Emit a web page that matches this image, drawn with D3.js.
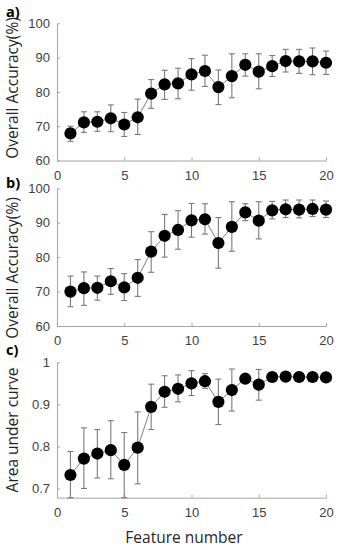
<!DOCTYPE html>
<html>
  <head>
    <title>Feature number vs accuracy</title>
    <style>
body {
  margin: 0px;
  overflow: hidden;
  background: white;
}
.tick text {
  font-family: 'Liberation Sans', Arial, sans-serif;
  font-size: 13px;
  fill: #404040;
}
.domain {
  stroke: #a6a6a6;
}
.tick line {
  stroke: #a6a6a6;
}
.axis-label {
  font-family: 'Open Sans', sans-serif;
  font-size: 15.5px;
  fill: #262626;
}
.panel-label {
  font-family: 'Open Sans', sans-serif;
  font-weight: bold;
  font-size: 14.5px;
  fill: #000;
}
    </style>
    <script src="https://cdn.jsdelivr.net/npm/d3@7"></script>
  </head>
  <body>
    <svg width="339" height="550"></svg>
    <script>

// feature counts on the x axis
const features = [1, 2, 3, 4, 5, 6, 7, 8, 9, 10, 11, 12, 13, 14, 15, 16, 17, 18, 19, 20];
const xTicks = [0, 5, 10, 15, 20];

// a) overall accuracy (%)
const accA   = [67.9, 71.1, 71.3, 72.3, 70.5, 72.6, 79.5, 82.2, 82.5, 85.1, 86.1, 81.4, 84.6, 87.9, 85.9, 87.5, 89.0, 88.9, 88.9, 88.5];
const accALo = [65.6, 68.2, 68.5, 68.4, 67.0, 67.6, 75.2, 77.8, 78.0, 80.5, 81.6, 76.3, 78.3, 84.6, 80.9, 84.5, 85.8, 85.4, 85.0, 85.1];
const accAHi = [70.0, 74.2, 74.2, 76.2, 74.0, 77.9, 83.6, 86.3, 86.9, 89.7, 90.7, 86.4, 91.1, 91.1, 91.1, 90.6, 92.4, 92.4, 92.8, 91.9];

// b) overall accuracy (%)
const accB   = [70.0, 71.0, 71.1, 73.0, 71.2, 74.0, 81.6, 86.2, 87.9, 90.7, 91.0, 84.1, 88.8, 93.0, 90.6, 93.6, 93.9, 93.8, 94.0, 93.8];
const accBLo = [65.6, 66.0, 67.5, 69.2, 67.4, 68.6, 75.6, 80.0, 82.3, 85.8, 86.7, 76.8, 81.7, 90.6, 85.3, 91.1, 91.5, 91.4, 91.8, 91.5];
const accBHi = [74.5, 75.7, 74.5, 76.7, 75.2, 79.3, 87.4, 92.4, 93.5, 95.6, 95.5, 91.5, 96.1, 95.5, 96.1, 96.2, 96.6, 96.6, 96.6, 96.3];

// c) area under curve
const aucC   = [0.732, 0.771, 0.783, 0.791, 0.756, 0.797, 0.894, 0.930, 0.937, 0.950, 0.955, 0.906, 0.934, 0.961, 0.947, 0.965, 0.966, 0.965, 0.965, 0.964];
const aucCLo = [0.670, 0.700, 0.725, 0.723, 0.670, 0.711, 0.840, 0.893, 0.906, 0.921, 0.938, 0.852, 0.884, 0.953, 0.910, 0.958, 0.959, 0.958, 0.958, 0.957];
const aucCHi = [0.788, 0.844, 0.840, 0.861, 0.833, 0.882, 0.948, 0.968, 0.970, 0.980, 0.973, 0.960, 0.984, 0.969, 0.983, 0.972, 0.973, 0.972, 0.972, 0.971];

const accTicks = [60, 70, 80, 90, 100];
const aucTicks = [0.7, 0.8, 0.9, 1];

const svg = d3.select('svg');

const left = 57, right = 326;
const xScale = d3.scaleLinear().domain([0, 20]).range([left, right]);

const render = (opt) => {
  const { mean, lo, hi, yDomain, yTicks, yFormat, top, bottom, yLabel, labelY, letter, letterY } = opt;

  const yScale = d3.scaleLinear()
    .domain(yDomain)
    .range([bottom, top])
    .clamp(true);

  const g = svg.append('g');

  const xAxis = d3.axisBottom(xScale)
    .tickValues(xTicks)
    .tickSizeInner(-3)
    .tickSizeOuter(0)
    .tickPadding(10);

  const yAxis = d3.axisLeft(yScale)
    .tickValues(yTicks)
    .tickFormat(yFormat)
    .tickSizeInner(-3)
    .tickSizeOuter(0)
    .tickPadding(7);

  g.append('g')
    .attr('transform', `translate(0,${bottom})`)
    .call(xAxis);

  g.append('g')
    .attr('transform', `translate(${left},0)`)
    .call(yAxis);

  // connecting line
  const line = d3.line()
    .x((d, i) => xScale(features[i]))
    .y(d => yScale(d));

  g.append('path')
    .datum(mean)
    .attr('d', line)
    .attr('fill', 'none')
    .attr('stroke', '#808080')
    .attr('stroke-width', 1);

  // error bars
  const capW = 3;
  const bars = g.selectAll('.err').data(features)
    .enter().append('g')
    .attr('class', 'err')
    .attr('stroke', '#7a7a7a')
    .attr('stroke-width', 1.1);

  bars.append('line')
    .attr('x1', d => xScale(d))
    .attr('x2', d => xScale(d))
    .attr('y1', (d, i) => yScale(lo[i]))
    .attr('y2', (d, i) => yScale(hi[i]));

  bars.append('line')
    .attr('x1', d => xScale(d) - capW)
    .attr('x2', d => xScale(d) + capW)
    .attr('y1', (d, i) => yScale(hi[i]))
    .attr('y2', (d, i) => yScale(hi[i]));

  bars.append('line')
    .attr('x1', d => xScale(d) - capW)
    .attr('x2', d => xScale(d) + capW)
    .attr('y1', (d, i) => yScale(lo[i]))
    .attr('y2', (d, i) => yScale(lo[i]));

  // markers
  g.selectAll('circle').data(features)
    .enter().append('circle')
      .attr('cx', d => xScale(d))
      .attr('cy', (d, i) => yScale(mean[i]))
      .attr('r', 6.1)
      .attr('fill', 'black');

  svg.append('text')
    .attr('class', 'axis-label')
    .attr('transform', `translate(18,${labelY}) rotate(-90)`)
    .attr('text-anchor', 'middle')
    .text(yLabel);

  svg.append('text')
    .attr('class', 'panel-label')
    .attr('x', 6)
    .attr('y', letterY)
    .text(letter);
};

render({
  mean: accA, lo: accALo, hi: accAHi,
  yDomain: [60, 100], yTicks: accTicks, yFormat: d3.format('d'),
  top: 23.3, bottom: 160.5,
  yLabel: 'Overall Accuracy(%)', labelY: 88,
  letter: 'a)', letterY: 17
});

render({
  mean: accB, lo: accBLo, hi: accBHi,
  yDomain: [60, 100], yTicks: accTicks, yFormat: d3.format('d'),
  top: 188.3, bottom: 326,
  yLabel: 'Overall Accuracy(%)', labelY: 268,
  letter: 'b)', letterY: 188
});

render({
  mean: aucC, lo: aucCLo, hi: aucCHi,
  yDomain: [0.678, 1], yTicks: aucTicks, yFormat: d => d === 1 ? '1' : d3.format('.1f')(d),
  top: 362.3, bottom: 497.7,
  yLabel: 'Area under curve', labelY: 430,
  letter: 'c)', letterY: 355
});

svg.append('text')
  .attr('class', 'axis-label')
  .attr('x', 184)
  .attr('y', 543)
  .attr('text-anchor', 'middle')
  .text('Feature number');

    </script>
  </body>
</html>
